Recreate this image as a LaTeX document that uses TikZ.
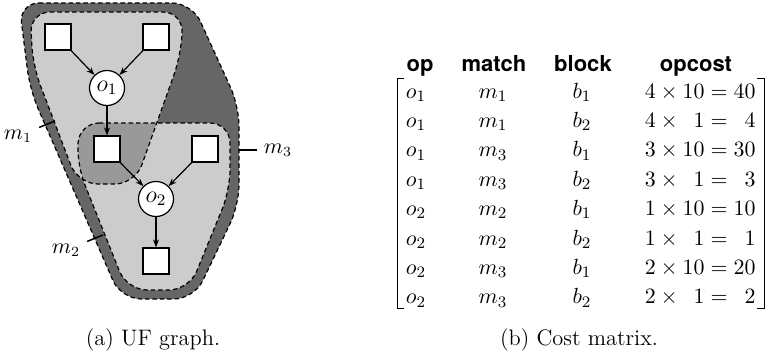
\documentclass[tikz,border=0pt]{standalone}
\usepackage{fontspec}
\newfontfamily\hdrfont{TeX Gyre Heros}
\usetikzlibrary{arrows.meta}
\begin{document}
\begin{tikzpicture}[x=0.5pt,y=-0.5pt,
  sq/.style={draw,fill=white,line width=0.6pt,minimum size=13pt,inner sep=0pt},
  opn/.style={draw,fill=white,circle,line width=0.6pt,minimum size=17.5pt,inner sep=0pt,font=\fontsize{12}{14}\selectfont},
  arr/.style={line width=0.6pt,-{Stealth[length=4pt,width=3pt]}},
  region/.style={dash pattern=on 2.2pt off 1.5pt, line width=0.6pt},
  lead/.style={line width=0.75pt},
  mlabel/.style={font=\fontsize{10.5}{12}\selectfont},
  hdr/.style={anchor=base,inner sep=0pt,font=\hdrfont\bfseries\fontsize{11}{13}\selectfont},
  cell/.style={anchor=base,inner sep=0pt,font=\fontsize{11}{13}\selectfont},
  captext/.style={anchor=base,inner sep=0pt,font=\fontsize{11.2}{13}\selectfont},
  brk/.style={line width=0.5pt}]
\useasboundingbox (0,0) rectangle (769,358);

% regions
\path[save path=\pthree, rounded corners=10pt] (19,3) -- (192,3) -- (239,106) -- (239,205) -- (194,299) -- (121,299) -- (30,90) -- cycle;
\path[save path=\pone, rounded corners=10pt] (30,12) -- (183,12) -- (181,55) -- (135,184) -- (78,184) -- (33,66) -- cycle;
\path[save path=\ptwo, rounded corners=10pt] (79,123) -- (230,123) -- (230,190) -- (189,290) -- (127,290) -- (77,165) -- cycle;

\fill[black!60, use path=\pthree];
\fill[black!20, use path=\pone];
\fill[black!20, use path=\ptwo];
\begin{scope}
  \path[use path=\pone, clip];
  \fill[black!40, use path=\ptwo];
\end{scope}
\draw[region, use path=\pthree];
\draw[region, use path=\pone];
\draw[region, use path=\ptwo];

% graph
\node[sq] (s1) at (58,37) {};
\node[sq] (s2) at (156,37) {};
\node[opn] (o1) at (107,88) {$o_1$};
\node[sq] (s3) at (107,149) {};
\node[sq] (s4) at (205,149) {};
\node[opn] (o2) at (156,199) {$o_2$};
\node[sq] (s5) at (156,261) {};
\draw[arr] (s1) -- (o1);
\draw[arr] (s2) -- (o1);
\draw[arr] (o1) -- (s3);
\draw[arr] (s3) -- (o2);
\draw[arr] (s4) -- (o2);
\draw[arr] (o2) -- (s5);

% labels
\node[mlabel] (l1) at (18,136) {$m_1$};
\node[mlabel] (l2) at (66,250) {$m_2$};
\node[mlabel] (l3) at (278,150) {$m_3$};
\coordinate (p1) at (55,121);
\coordinate (p2) at (103,235);
\coordinate (p3) at (239,150);
\draw[lead] (l1) -- (p1);
\draw[lead] (l2) -- (p2);
\draw[lead] (p3) -- (l3);

% matrix header
\node[hdr] (hop) at (420,72) {op};
\node[hdr] (hmatch) at (494,72) {match};
\node[hdr] (hblock) at (583,72) {block};
\node[hdr] (hcost) at (696,72) {opcost};

% rows
\foreach \i/\o/\m/\b/\c in {
  1/1/1/1/{4\times10=40},
  2/1/1/2/{4\times\phantom{0}1=\phantom{0}4},
  3/1/3/1/{3\times10=30},
  4/1/3/2/{3\times\phantom{0}1=\phantom{0}3},
  5/2/2/1/{1\times10=10},
  6/2/2/2/{1\times\phantom{0}1=\phantom{0}1},
  7/2/3/1/{2\times10=20},
  8/2/3/2/{2\times\phantom{0}1=\phantom{0}2}} {
  \pgfmathsetmacro{\yy}{98+(\i-1)*29.4}
  \node[cell] (op\i) at (416,\yy) {$o_{\o}$};
  \node[cell] (mt\i) at (493,\yy) {$m_{\m}$};
  \node[cell] (bk\i) at (582,\yy) {$b_{\b}$};
  \node[cell,anchor=base east] (oc\i) at (756,\yy) {$\c$};
}

% brackets
\draw[brk] (404,79) -- (397,79) -- (397,308) -- (404,308);
\draw[brk] (757,79) -- (764,79) -- (764,308) -- (757,308);

% captions
\node[captext] (capa) at (153,345) {(a) UF graph.};
\node[captext] (capb) at (579,345) {(b) Cost matrix.};
\end{tikzpicture}
\end{document}
